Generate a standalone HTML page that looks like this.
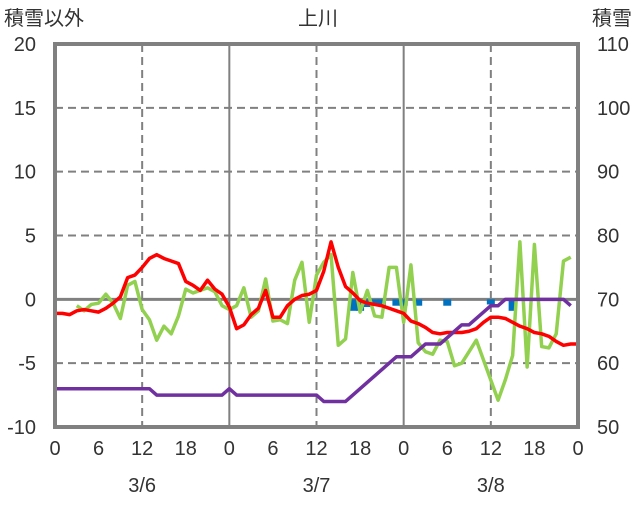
<!DOCTYPE html>
<html><head><meta charset="utf-8"><style>
body{margin:0;background:#fff;}
svg text{font-family:"Liberation Sans","Noto Sans CJK JP",sans-serif;fill:#333;}
</style></head><body>
<svg id="chart" width="636" height="501" xmlns="http://www.w3.org/2000/svg"></svg>
<script>
const leftTicks=[20,15,10,5,0,-5,-10];
const rightTicks=[110,100,90,80,70,60,50];
const hourLabels=["0","6","12","18","0","6","12","18","0","6","12","18","0"];
const dateLabels=["3/6","3/7","3/8"];
const redValues=[-1.1,-1.1,-1.2,-0.9,-0.8,-0.9,-1.0,-0.7,-0.3,0.2,1.7,1.9,2.5,3.2,3.5,3.2,3.0,2.8,1.4,1.1,0.7,1.5,0.8,0.4,-0.6,-2.3,-2.0,-1.2,-0.7,0.7,-1.4,-1.4,-0.5,0.0,0.3,0.4,0.7,2.2,4.5,2.5,1.0,0.5,-0.1,-0.3,-0.4,-0.5,-0.7,-0.9,-1.1,-1.7,-1.9,-2.2,-2.6,-2.7,-2.6,-2.6,-2.6,-2.5,-2.3,-1.8,-1.4,-1.4,-1.5,-1.8,-2.1,-2.3,-2.6,-2.7,-2.9,-3.3,-3.6,-3.5,-3.5];
const greenHours=[3,4,5,6,7,8,9,10,11,12,13,14,15,16,17,18,19,20,21,22,23,24,25,26,27,28,29,30,31,32,33,34,35,36,37,38,39,40,41,42,43,44,45,46,47,48,49,50,51,52,53,54,55,56,58,61,62,63,64,65,66,67,68,69,70,71];
const greenValues=[-0.5,-0.9,-0.4,-0.3,0.4,-0.3,-1.5,1.1,1.4,-0.8,-1.6,-3.2,-2.1,-2.7,-1.3,0.8,0.5,0.7,0.9,0.6,-0.5,-0.8,-0.5,0.9,-1.4,-0.9,1.6,-1.7,-1.6,-1.9,1.5,2.9,-1.8,1.9,2.9,3.5,-3.6,-3.1,2.1,-1.0,0.7,-1.3,-1.4,2.5,2.5,-1.8,2.7,-3.4,-4.1,-4.3,-3.2,-3.3,-5.2,-5.0,-3.2,-7.9,-6.3,-4.4,4.5,-5.3,4.3,-3.7,-3.8,-2.7,3.0,3.3];
const snowValues=[56,56,56,56,56,56,56,56,56,56,56,56,56,56,55,55,55,55,55,55,55,55,55,55,56,55,55,55,55,55,55,55,55,55,55,55,55,54,54,54,54,55,56,57,58,59,60,61,61,61,62,63,63,63,64,65,66,66,67,68,69,69,70,70,70,70,70,70,70,70,70,69];
const barHours=[41,42,43,44,45,47,48,50,54,60,63];
const barValues=[-0.9,-0.9,-0.6,-0.4,-0.5,-0.5,-0.5,-0.5,-0.5,-0.4,-0.9];

const L=55,R=578,T=44,B=427;
const xh=h=>L+h*(R-L)/72;
const yl=v=>T+(20-v)*(B-T)/30;
const yr=v=>T+(110-v)*(B-T)/60;
const svg=document.getElementById('chart');
const NS='http://www.w3.org/2000/svg';
function mk(tag,attrs,parent){const e=document.createElementNS(NS,tag);for(const k in attrs)e.setAttribute(k,attrs[k]);(parent||svg).appendChild(e);return e;}

leftTicks.forEach(v=>{
  if(v===20||v===-10)return;
  const g=mk('line',{x1:L,x2:R,y1:yl(v),y2:yl(v),stroke:'#808080','stroke-width':v===0?3:2,'stroke-dasharray':v===0?'':'8,5'});
  
  
});
[12,24,36,48,60].forEach(h=>{
  const g=mk('line',{x1:xh(h),x2:xh(h),y1:T,y2:B,stroke:'#808080','stroke-width':2,'stroke-dasharray':h%24===0?'':'8,5'});
  
  
});
barHours.forEach((h,i)=>{
  const v=barValues[i];
  const b=mk('rect',{x:xh(h)-4,y:yl(0),width:8,height:yl(v)-yl(0),fill:'#0070C0'});
  
  
});
function line(pts,color,name){
  const p=mk('polyline',{points:pts.map(q=>q.join(',')).join(' '),fill:'none',stroke:color,'stroke-width':3.5,'stroke-linejoin':'round'});
  
  
}
line(greenHours.map((h,i)=>[xh(h),yl(greenValues[i])]),'#92D050','green-series-line');
line(redValues.map((v,i)=>[xh(i),yl(v)]),'#FF0000','temperature-line');
line(snowValues.map((v,i)=>[xh(i),yr(v)]),'#7030A0','snow-depth-line');
const f=mk('rect',{x:L,y:T,width:R-L,height:B-T,fill:'none',stroke:'#808080','stroke-width':4});


leftTicks.forEach(v=>{
  const t=mk('text',{x:36,y:yl(v)+7,'text-anchor':'end','font-size':20});t.textContent=v;
  
  
});
rightTicks.forEach(v=>{
  const t=mk('text',{x:597,y:yr(v)+7,'font-size':20});t.textContent=v;
  
  
});
hourLabels.forEach((s,i)=>{
  const t=mk('text',{x:xh(i*6),y:455,'text-anchor':'middle','font-size':20});t.textContent=s;
  
  
});
dateLabels.forEach((s,i)=>{
  const t=mk('text',{x:xh(12+i*24),y:492,'text-anchor':'middle','font-size':20});t.textContent=s;
  
  
});
[['積雪以外',4,'start','left-axis-title'],['上川',318,'middle','chart-title'],['積雪',632,'end','right-axis-title']].forEach(a=>{
  const t=mk('text',{x:a[1],y:25,'text-anchor':a[2],'font-size':20});t.textContent=a[0];
  
  
});
</script>
</body></html>
